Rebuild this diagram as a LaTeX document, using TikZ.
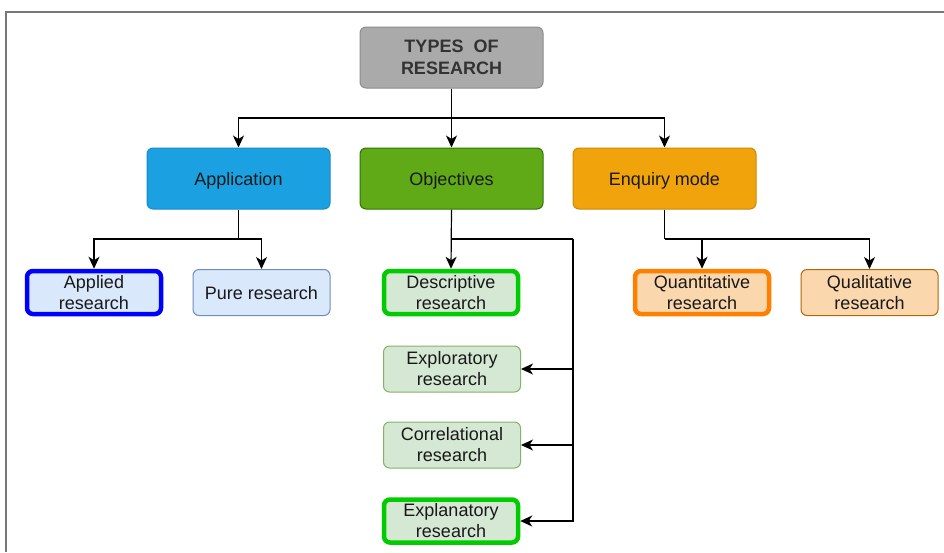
\documentclass[tikz,border=0pt]{standalone}
\usepackage{fontspec}
\setmainfont{Liberation Sans}
\usetikzlibrary{arrows.meta}
\definecolor{titlefill}{HTML}{AAAAAA}
\definecolor{titledraw}{HTML}{8C8C8C}
\definecolor{titletext}{HTML}{333333}
\definecolor{appfill}{HTML}{1BA1E2}
\definecolor{appdraw}{HTML}{1A8BC6}
\definecolor{objfill}{HTML}{60A917}
\definecolor{objdraw}{HTML}{2D7600}
\definecolor{enqfill}{HTML}{F0A30A}
\definecolor{enqdraw}{HTML}{C98A08}
\definecolor{bluefill}{HTML}{DAE8FC}
\definecolor{bluedraw}{HTML}{6C8EBF}
\definecolor{bluethick}{HTML}{0000FF}
\definecolor{greenfill}{HTML}{D5E8D4}
\definecolor{greendraw}{HTML}{82B366}
\definecolor{greenthick}{HTML}{00CC00}
\definecolor{orangefill}{HTML}{FAD7AC}
\definecolor{orangedraw}{HTML}{B46504}
\definecolor{orangethick}{HTML}{FF8000}
\definecolor{framecol}{HTML}{777777}
\tikzset{
  base/.style={rounded corners=6pt, inner sep=0pt, align=center,
    font=\fontsize{18}{21}\selectfont, text=black!90},
  topbox/.style={base, minimum width=183pt, minimum height=61pt, line width=1pt},
  onerow/.style={text height=17pt, text depth=4pt},
  smallbox/.style={base, minimum width=137pt, minimum height=46pt, line width=1pt},
  thickbox/.style={base, minimum width=134pt, minimum height=43pt, line width=4.5pt},
  arr/.style={-{Stealth[length=12pt,width=11pt,inset=3.5pt]}, line width=1.2pt, black},
  plain/.style={line width=1.2pt, black}
}
\begin{document}
\begin{tikzpicture}[x=1pt,y=-1pt]
\useasboundingbox (0,0) rectangle (944,552);
\draw[framecol, line width=1.5pt] (944,12) -- (6,12) -- (6,552);

\node[topbox, fill=titlefill, draw=titledraw, text=titletext, font=\fontsize{18}{21.5}\selectfont\bfseries] (title) at (451.5,57.5) {TYPES~~OF\\RESEARCH};

\node[topbox, onerow, fill=appfill, draw=appdraw] (app) at (238.5,178.5) {Application};
\node[topbox, onerow, fill=objfill, draw=objdraw] (obj) at (451.5,178.5) {Objectives};
\node[topbox, onerow, fill=enqfill, draw=enqdraw] (enq) at (664.5,178.5) {Enquiry mode};

\node[thickbox, fill=bluefill, draw=bluethick] (applied) at (94,292.5) {Applied\\research};
\node[smallbox, onerow, fill=bluefill, draw=bluedraw] (pure) at (261.5,292.5) {Pure research};

\node[thickbox, fill=greenfill, draw=greenthick] (desc) at (451,292.5) {Descriptive\\research};
\node[smallbox, fill=greenfill, draw=greendraw] (explor) at (452,369) {Exploratory\\research};
\node[smallbox, fill=greenfill, draw=greendraw] (correl) at (452,445) {Correlational\\research};
\node[thickbox, fill=greenfill, draw=greenthick] (explan) at (451,521) {Explanatory\\research};

\node[thickbox, fill=orangefill, draw=orangethick] (quant) at (702,292.5) {Quantitative\\research};
\node[smallbox, fill=orangefill, draw=orangedraw] (qual) at (869.5,292.5) {Qualitative\\research};

% top level connectors
\coordinate (j1) at (451.5,118);
\draw[plain] (title.south) -- (j1);
\draw[arr] (j1) -| (app.north);
\draw[arr] (j1) -| (enq.north);
\draw[arr] (j1) -- (obj.north);

% application
\coordinate (j2) at (238.5,239);
\draw[plain] (app.south) -- (j2);
\draw[arr] (j2) -| (applied.north);
\draw[arr] (j2) -| (pure.north);

% objectives
\coordinate (j3) at (451.5,239);
\coordinate (r) at (573,239);
\draw[arr] (obj.south) -- (desc.north);
\draw[plain] (j3) -- (r);
\draw[arr] (r) |- (explor.east);
\draw[arr] (r) |- (correl.east);
\draw[arr] (r) |- (explan.east);

% enquiry
\coordinate (j4) at (664.5,239);
\draw[plain] (enq.south) -- (j4);
\draw[arr] (j4) -| (quant.north);
\draw[arr] (j4) -| (qual.north);
\end{tikzpicture}
\end{document}
